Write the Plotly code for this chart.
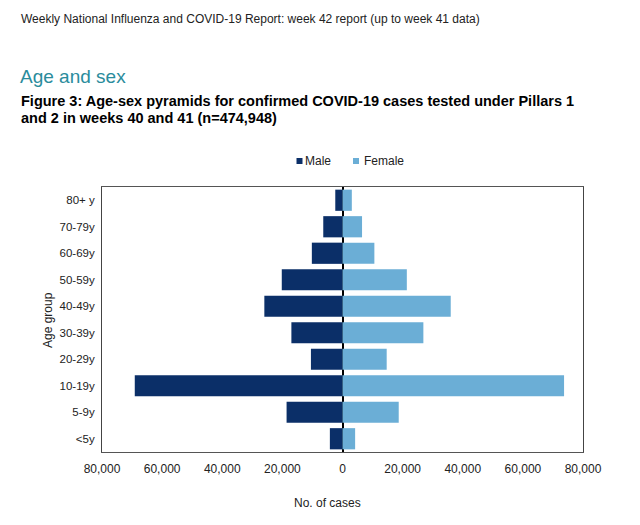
import plotly.graph_objects as go

age_groups = ["<5y", "5-9y", "10-19y", "20-29y", "30-39y", "40-49y", "50-59y", "60-69y", "70-79y", "80+ y"]
male = [4200, 18600, 69100, 10500, 17000, 26000, 20200, 10200, 6400, 2400]
female = [4200, 18700, 73700, 14700, 26900, 36000, 21400, 10600, 6500, 3100]
tick_vals = [-80000, -60000, -40000, -20000, 0, 20000, 40000, 60000, 80000]
tick_text = ["80,000", "60,000", "40,000", "20,000", "0", "20,000", "40,000", "60,000", "80,000"]

MALE_C = "#0b2f68"
FEMALE_C = "#6baed6"
FONT = "Liberation Sans, Arial, sans-serif"

OFF = 8  # page body margin
W, H = 640 - 2 * OFF, 525 - 2 * OFF
L, R, T, B = 102, 583, 187, 452  # plot area in page pixels


def px(x):
    return (x - L) / (R - L)


def py(y):
    return (B - y) / (B - T)


fig = go.Figure()
fig.add_trace(go.Bar(y=age_groups, x=[-v for v in male], name="Male", orientation="h",
                     marker=dict(color=MALE_C, line=dict(width=0)),
                     customdata=male, hovertemplate="%{y}: %{customdata:,}<extra>Male</extra>"))
fig.add_trace(go.Bar(y=age_groups, x=female, name="Female", orientation="h",
                     marker=dict(color=FEMALE_C, line=dict(width=0)),
                     hovertemplate="%{y}: %{x:,}<extra>Female</extra>"))

fig.update_layout(
    width=W, height=H,
    margin=dict(l=L - OFF, r=W - (R - OFF), t=T - OFF, b=H - (B - OFF), pad=0),
    paper_bgcolor="white", plot_bgcolor="white",
    barmode="relative", bargap=0.2,
    font=dict(family=FONT, size=12, color="#222"),
    showlegend=False,
    xaxis=dict(range=[-80000, 80000], tickvals=tick_vals, ticktext=tick_text,
               showgrid=False, zeroline=True, zerolinecolor="black", zerolinewidth=1.5,
               showline=True, linecolor="#555", linewidth=1, mirror=True,
               ticks="", ticklabelstandoff=6, tickfont=dict(size=12, color="#222")),
    yaxis=dict(categoryorder="array", categoryarray=age_groups, showgrid=False,
               showline=True, linecolor="#444", linewidth=1, mirror=True,
               ticks="", ticklabelstandoff=4, tickfont=dict(size=11.5, color="#222")),
)

annotations = [
    dict(text="Weekly National Influenza and COVID-19 Report: week 42 report (up to week 41 data)",
         x=px(19), y=py(19), xanchor="left", yanchor="middle", font=dict(size=12, color="#222")),
    dict(text="Age and sex", x=px(18), y=py(76), xanchor="left", yanchor="middle",
         font=dict(size=19, color="#2a8c9c")),
    dict(text="<b>Figure 3: Age-sex pyramids for confirmed COVID-19 cases tested under Pillars 1</b>",
         x=px(19), y=py(101), xanchor="left", yanchor="middle", font=dict(size=14.5, color="black")),
    dict(text="<b>and 2 in weeks 40 and 41 (n=474,948)</b>",
         x=px(19), y=py(118), xanchor="left", yanchor="middle", font=dict(size=14.5, color="black")),
    dict(text="No. of cases", x=px(327), y=py(503), xanchor="center", yanchor="middle",
         font=dict(size=12, color="#222")),
    dict(text="Age group", x=px(48), y=py(320), xanchor="center", yanchor="middle", textangle=-90,
         font=dict(size=12, color="#222")),
    dict(text="Male", x=px(303), y=py(161), xanchor="left", yanchor="middle",
         font=dict(size=12, color="#222")),
    dict(text="Female", x=px(362), y=py(161), xanchor="left", yanchor="middle",
         font=dict(size=12, color="#222")),
]
for a in annotations:
    a.update(xref="paper", yref="paper", showarrow=False)

shapes = [
    dict(type="rect", xref="paper", yref="paper", x0=px(296.5), x1=px(302.5), y0=py(164), y1=py(158),
         fillcolor=MALE_C, line=dict(width=0)),
    dict(type="rect", xref="paper", yref="paper", x0=px(353), x1=px(359), y0=py(164), y1=py(158),
         fillcolor=FEMALE_C, line=dict(width=0)),
]
fig.update_layout(annotations=annotations, shapes=shapes)

fig.write_html("out.html")
